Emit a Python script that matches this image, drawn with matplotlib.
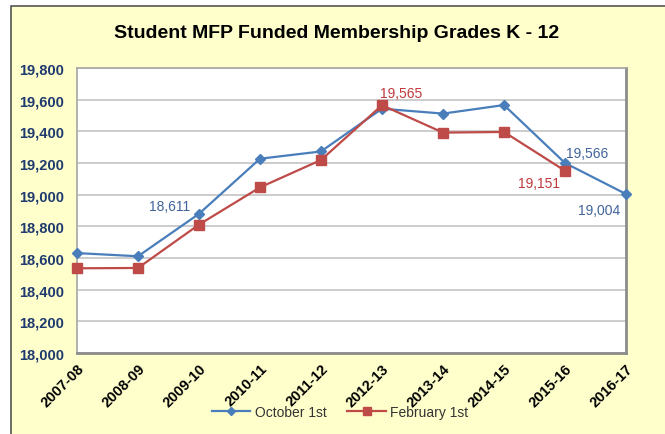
import numpy as np
import matplotlib
matplotlib.use("Agg")
import matplotlib.pyplot as plt
from matplotlib.patches import Rectangle

# school years on the x axis
seasons = ["2007-08", "2008-09", "2009-10", "2010-11", "2011-12",
           "2012-13", "2013-14", "2014-15", "2015-16", "2016-17"]
october = [18631, 18611, 18879, 19227, 19273, 19543, 19512, 19566, 19200, 19004]
february = [18535, 18537, 18811, 19046, 19219, 19565, 19392, 19396, 19151, np.nan]

y_ticks = [18000, 18200, 18400, 18600, 18800, 19000, 19200, 19400, 19600, 19800]

# data labels as they sit on the original (text, x index, y value)
oct_labels = [("18,611", 1.52, 18930), ("19,566", 8.36, 19263), ("19,004", 8.56, 18900)]
feb_labels = [("19,565", 5.31, 19644), ("19,151", 7.57, 19073)]

blue = "#4A7EBB"
red = "#BE4B48"
blue_txt = "#3F649A"
red_txt = "#C0393B"
navy = "#1F3A6E"

plt.rcParams["font.family"] = ["Liberation Sans", "DejaVu Sans"]

fig = plt.figure(figsize=(6.65, 4.35), dpi=100)
fig.patch.set_facecolor("white")
# yellow chart area with dark frame on top/left
fig.patches.append(Rectangle((11 / 665, -0.01), 1.0, (435 - 7) / 435 + 0.01,
                             transform=fig.transFigure, facecolor="#FFFFCC",
                             edgecolor="#555555", linewidth=1.2, zorder=-5))

ax = fig.add_axes([77 / 665, 81 / 435, 549 / 665, 285 / 435])
ax.set_zorder(2)
ax.set_facecolor("white")

x = np.arange(len(seasons))
ax.plot(x, october, color=blue, lw=1.6, marker="D", markersize=5.5,
        label="October 1st", zorder=3, clip_on=False)
ax.plot(x, february, color=red, lw=1.6, marker="s", markersize=7,
        label="February 1st", zorder=3, clip_on=False)

for txt, xi, yv in oct_labels:
    ax.text(xi, yv, txt, color=blue_txt, fontsize=10, ha="center", va="center")
for txt, xi, yv in feb_labels:
    ax.text(xi, yv, txt, color=red_txt, fontsize=10, ha="center", va="center")

ax.set_xlim(0, len(seasons) - 1)
ax.set_ylim(18000, 19800)
ax.set_yticks(y_ticks)
ax.set_yticklabels([f"{v:,}" for v in y_ticks], fontsize=10.5,
                   fontweight="bold", color=navy)
ax.set_xticks(x)
ax.set_xticklabels(seasons, rotation=45, ha="right", rotation_mode="anchor",
                   fontsize=10.5, fontweight="bold", color="black")
ax.tick_params(axis="both", length=0)
ax.tick_params(axis="y", pad=9)
ax.tick_params(axis="x", pad=6)
ax.grid(axis="y", color="#C8C8C8", lw=1.3, zorder=1)
ax.set_axisbelow(True)

for side in ["top", "left"]:
    ax.spines[side].set_color("#A6A6A6")
    ax.spines[side].set_linewidth(1.2)
for side in ["right", "bottom"]:
    ax.spines[side].set_color("#8C8C8C")
    ax.spines[side].set_linewidth(2.0)

fig.text(337 / 665, 1 - 33 / 435, "Student MFP Funded Membership Grades K - 12",
         fontsize=14, fontweight="bold", ha="center", va="center",
         color="black")

fig.legend(loc="center", bbox_to_anchor=(340 / 665, 1 - 413 / 435), ncol=2,
           frameon=False, fontsize=10, handlelength=2.8, columnspacing=1.5,
           handletextpad=0.3, labelcolor="#333333", markerscale=0.8)

fig.savefig("out.png", dpi=100, facecolor=fig.get_facecolor())
